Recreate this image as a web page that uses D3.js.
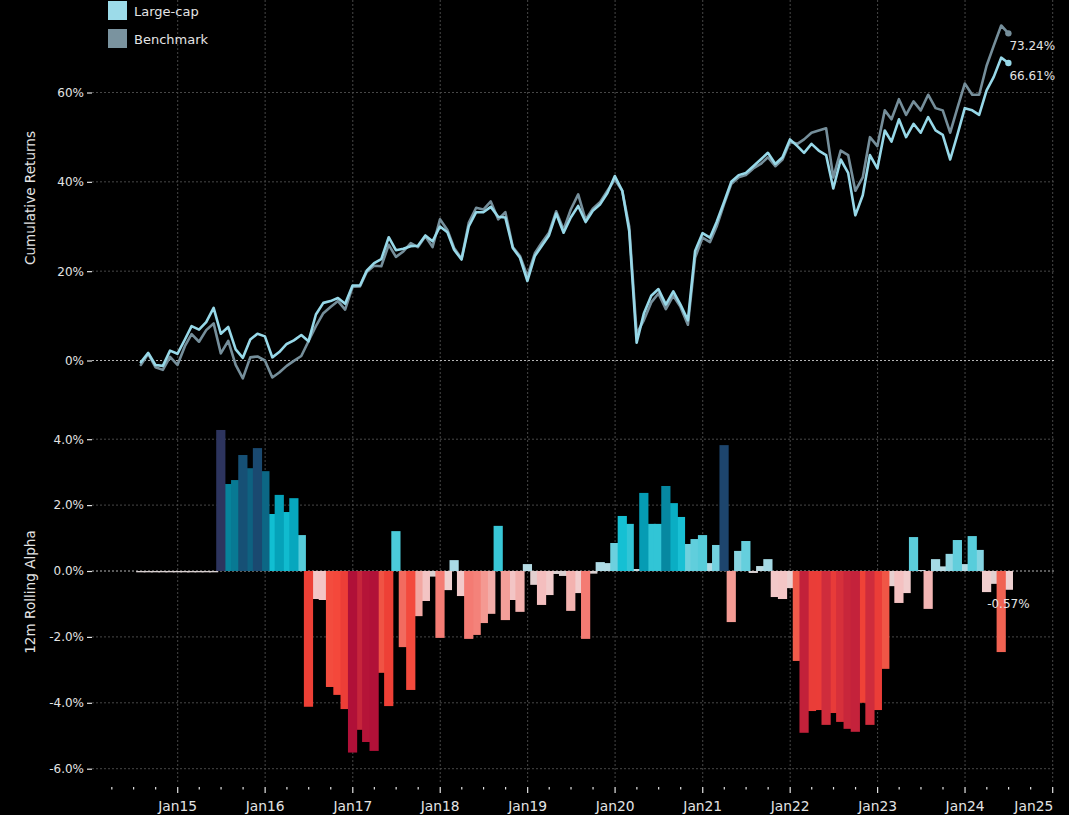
<!DOCTYPE html>
<html>
<head>
<meta charset="utf-8">
<script src="https://cdn.jsdelivr.net/npm/d3@7"></script>
<style>
  html, body { margin: 0; background: #000; }
  svg { display: block; }
  text { font-family: "DejaVu Sans", sans-serif; }
</style>
</head>
<body>
<svg id="chart" width="1069" height="815"></svg>
<script>
// Monthly series, month-end from Jul 2014 to Jun 2024
const seriesNames = ["Large-cap", "Benchmark"];

// cumulative returns, %
const largeCap = [
  -0.4, 1.7, -1.0, -1.2, 2.2, 1.5, 4.7, 7.7, 6.9, 8.6, 11.8, 6.0,
  7.5, 2.5, 0.6, 4.7, 6.0, 5.4, 0.7, 1.9, 3.7, 4.5, 5.7, 4.3,
  10.3, 12.9, 13.3, 14.0, 12.7, 16.8, 16.8, 20.1, 21.8, 22.7, 27.6, 24.7,
  25.0, 25.6, 25.7, 28.0, 26.7, 30.0, 28.7, 24.8, 22.6, 30.0, 33.2, 33.2,
  34.4, 32.2, 32.0, 25.2, 23.0, 17.8, 23.4, 25.6, 28.0, 32.9, 28.6, 32.0,
  34.6, 31.0, 33.5, 35.0, 37.5, 41.3, 38.0, 29.0, 4.0, 10.5, 14.5, 16.0,
  12.5, 15.5, 12.5, 9.0, 24.5, 28.5, 27.5, 31.0, 35.5, 40.0, 41.5, 42.0,
  43.5, 45.0, 46.5, 44.0, 45.5, 49.5, 48.0, 46.5, 48.5, 47.0, 46.0, 38.5,
  45.0, 42.0, 32.5, 37.0, 46.0, 43.0, 51.5, 49.0, 54.0, 50.0, 53.0, 51.0,
  54.5, 51.5, 50.5, 45.0, 50.5, 56.5, 56.0, 55.0, 60.5, 63.5, 67.8, 66.61
];
const benchmark = [
  -1.0, 1.5, -1.5, -2.1, 0.8, -1.0, 3.2, 5.9, 4.2, 6.8, 8.3, 1.6,
  4.4, -1.0, -4.0, 0.7, 0.9, 0.0, -3.8, -2.7, -1.2, -0.1, 1.0, 4.3,
  7.7, 10.6, 12.0, 13.3, 11.4, 16.5, 16.6, 19.8, 21.2, 21.1, 25.9, 23.2,
  24.4, 26.3, 25.4, 27.8, 25.4, 31.6, 29.2, 25.2, 22.8, 30.8, 34.2, 33.8,
  35.6, 31.6, 33.2, 25.4, 23.4, 18.9, 24.0, 26.3, 28.6, 33.4, 29.3, 33.8,
  37.2, 31.5, 34.0, 35.5, 38.0, 40.5, 38.0, 30.0, 6.0, 9.0, 13.0, 15.0,
  11.5, 14.5, 12.0, 8.0, 23.0, 27.5, 26.5, 30.0, 35.0, 39.5, 41.0, 41.5,
  43.0, 44.0, 45.5, 43.5, 45.0, 49.0, 48.5, 49.5, 51.0, 51.5, 52.0, 41.0,
  47.0, 46.0, 38.0, 41.0, 50.0, 48.0, 56.0, 54.0, 58.5, 55.0, 58.0, 56.0,
  59.5, 56.5, 56.0, 51.0, 56.5, 62.0, 59.5, 59.5, 66.0, 70.5, 75.0, 73.24
];

// 12-month rolling alpha, %
const rollingAlpha = [
  -0.04, -0.04, -0.04, -0.04, -0.04, -0.04, -0.04, -0.04, -0.04, -0.04, -0.04, 4.28,
  2.64, 2.76, 3.52, 3.12, 3.73, 3.03, 1.73, 2.31, 1.79, 2.21, 1.09, -4.12,
  -0.85, -0.88, -3.52, -3.76, -4.19, -5.51, -4.82, -5.19, -5.46, -3.09, -4.10, 1.21,
  -2.31, -3.61, -1.37, -0.91, -0.17, -2.03, -0.58, 0.33, -0.76, -2.06, -1.94, -1.58,
  -1.30, 1.37, -1.49, -0.88, -1.24, 0.21, -0.42, -1.03, -0.73, -0.09, -0.15, -1.21,
  -0.67, -2.06, -0.08, 0.27, 0.24, 0.85, 1.67, 1.43, 0.06, 2.37, 1.43, 1.43,
  2.58, 2.06, 1.64, 0.82, 0.97, 1.09, 0.24, 0.79, 3.82, -1.55, 0.61, 0.91,
  -0.06, 0.15, 0.36, -0.79, -0.85, -0.52, -2.73, -4.91, -4.25, -4.22, -4.67, -4.31,
  -4.58, -4.79, -4.88, -4.00, -4.67, -4.22, -2.97, -0.46, -0.97, -0.67, 1.03, 0.03,
  -1.15, 0.36, 0.14, 0.52, 0.94, 0.21, 1.06, 0.64, -0.64, -0.39, -2.46, -0.57
];

const returnTicks = [0, 20, 40, 60];
const alphaTicks = [4, 2, 0, -2, -4, -6];
const yearTicks = d3.range(2015, 2026);

// month-end dates for the series
const months = d3.utcMonth
  .range(new Date(Date.UTC(2014, 7, 1)), new Date(Date.UTC(2024, 7, 1)))
  .map(d => d3.utcDay.offset(d, -1));

const colors = { large: "#97d8e8", bench: "#758e9a", text: "#e4e4e4", grid: "#474747", zero: "#b5b5b5" };

const loc = d3.formatLocale({ decimal: ".", thousands: ",", grouping: [3], currency: ["$", ""], minus: "-" });
const fmtRet = d => loc.format(".0f")(d) + "%";
const fmtAlpha = d => loc.format(".1f")(d) + "%";
const fmtEnd = d => loc.format(".2f")(d) + "%";

const svg = d3.select("#chart");
const W = 1069, H = 815;
const left = 92, right = 1056;

svg.append("rect").attr("width", W).attr("height", H).attr("fill", "#000");

const x = d3.scaleUtc()
  .domain([new Date(Date.UTC(2015, 0, 1)), new Date(Date.UTC(2025, 0, 1))])
  .range([177.7, 1052.7]);

const yRet = d3.scaleLinear().domain([0, 60]).range([360.5, 92.5]);
const yAlpha = d3.scaleLinear().domain([0, 4]).range([571, 439.2]);

// vertical yearly grid through both panels
svg.append("g").selectAll("line").data(yearTicks).join("line")
  .attr("x1", d => x(new Date(Date.UTC(d, 0, 1))))
  .attr("x2", d => x(new Date(Date.UTC(d, 0, 1))))
  .attr("y1", 0).attr("y2", 784)
  .attr("stroke", colors.grid).attr("stroke-width", 1).attr("stroke-dasharray", "2,2");

// horizontal grids
function hGrid(scale, ticks) {
  svg.append("g").selectAll("line").data(ticks.filter(t => t !== 0)).join("line")
    .attr("x1", left).attr("x2", right)
    .attr("y1", d => scale(d)).attr("y2", d => scale(d))
    .attr("stroke", colors.grid).attr("stroke-width", 1).attr("stroke-dasharray", "2,2");
}
hGrid(yRet, returnTicks);
hGrid(yAlpha, alphaTicks);

// y axes (ticks + labels, no domain line)
function yAxis(scale, ticks, fmt) {
  const g = svg.append("g").attr("transform", `translate(${left},0)`)
    .call(d3.axisLeft(scale).tickValues(ticks).tickFormat(fmt).tickSize(5).tickPadding(3));
  g.select(".domain").remove();
  g.selectAll(".tick line").attr("stroke", colors.text).attr("stroke-width", 1.2);
  g.selectAll(".tick text").attr("fill", colors.text).style("font-size", "12px").style("font-family", "DejaVu Sans");
}
yAxis(yRet, returnTicks, fmtRet);
yAxis(yAlpha, alphaTicks, fmtAlpha);

// x axis: yearly labels, quarterly minor ticks
const xMajor = yearTicks.map(y => new Date(Date.UTC(y, 0, 1)));
const xMinor = d3.utcMonth.every(3).range(new Date(Date.UTC(2014, 3, 1)), new Date(Date.UTC(2025, 0, 2)))
  .filter(d => d.getUTCMonth() !== 0);
const gx = svg.append("g").attr("transform", "translate(0,787)");
gx.selectAll("line.minor").data(xMinor).join("line").attr("class", "minor")
  .attr("x1", d => x(d)).attr("x2", d => x(d)).attr("y1", 0).attr("y2", 2.5)
  .attr("stroke", colors.text).attr("stroke-width", 1.2);
gx.selectAll("line.major").data(xMajor).join("line").attr("class", "major")
  .attr("x1", d => x(d)).attr("x2", d => x(d)).attr("y1", 0).attr("y2", 6)
  .attr("stroke", colors.text).attr("stroke-width", 1.2);
// the last label is kept inside the frame by aligning its end to the tick
gx.selectAll("text").data(xMajor).join("text")
  .attr("x", (d, i) => i === xMajor.length - 1 ? x(d) + 0.5 : x(d)).attr("y", 23.5)
  .attr("text-anchor", (d, i) => i === xMajor.length - 1 ? "end" : "middle")
  .attr("fill", colors.text).style("font-size", "13.8px")
  .text(d => d3.utcFormat("%b%y")(d));

// zero lines
[yRet(0), yAlpha(0)].forEach(yy => {
  svg.append("line").attr("x1", left).attr("x2", right).attr("y1", yy).attr("y2", yy)
    .attr("stroke", colors.zero).attr("stroke-width", 1).attr("stroke-dasharray", "2,2");
});

// rolling alpha bars, coloured by value
const posColor = d3.scaleLinear()
  .domain([0, 0.3, 0.9, 1.2, 1.7, 2.3, 2.7, 3.2, 3.8, 4.3])
  .range(["#c9dade", "#acdbe6", "#66cfdd", "#4ccbd9", "#12bfd3", "#05a3ba", "#077d96", "#0f5c7c", "#1c466e", "#2e335d"])
  .clamp(true);
const negColor = d3.scaleLinear()
  .domain([0, -0.3, -0.6, -1.0, -1.3, -1.6, -2.1, -2.5, -3.0, -3.8, -4.1, -4.4, -4.7, -5.2, -5.5])
  .range(["#d8d0d0", "#dcd0d0", "#f0d0d0", "#f4c0c0", "#f2aca8", "#f49890", "#f47870", "#f0604f", "#f05545", "#f4473a", "#ee4036", "#e6393a", "#cc2a3c", "#b51438", "#b01038"])
  .clamp(true);
const barColor = v => v >= 0 ? posColor(v) : negColor(v);

const bars = months.map((d, i) => ({ date: d, v: rollingAlpha[i] }));
const barW = (x(months[1]) - x(months[0])) * 1.24;
svg.append("g").selectAll("rect")
  .data(bars.slice().sort((a, b) => Math.abs(a.v) - Math.abs(b.v)))
  .join("rect")
  .attr("x", d => x(d.date) - barW / 2)
  .attr("width", barW)
  .attr("y", d => Math.min(yAlpha(d.v), yAlpha(0)))
  .attr("height", d => Math.abs(yAlpha(d.v) - yAlpha(0)))
  .attr("fill", d => barColor(d.v));

// last alpha label
const lastBar = bars[bars.length - 1];
svg.append("text")
  .attr("x", x(lastBar.date)).attr("y", yAlpha(lastBar.v) + 18)
  .attr("text-anchor", "middle").attr("fill", colors.text).style("font-size", "12px")
  .text(fmtEnd(lastBar.v));

// cumulative return lines
const line = d3.line().x(d => x(d.date)).y(d => yRet(d.v));
const benchData = months.map((d, i) => ({ date: d, v: benchmark[i] }));
const largeData = months.map((d, i) => ({ date: d, v: largeCap[i] }));
[[benchData, colors.bench], [largeData, colors.large]].forEach(([data, c]) => {
  svg.append("path").datum(data).attr("d", line)
    .attr("fill", "none").attr("stroke", c).attr("stroke-width", 2.6)
    .attr("stroke-linejoin", "round").attr("stroke-linecap", "round");
  const last = data[data.length - 1];
  svg.append("circle").attr("cx", x(last.date)).attr("cy", yRet(last.v)).attr("r", 3.2).attr("fill", c);
  svg.append("text")
    .attr("x", x(last.date) + 1).attr("y", yRet(last.v) + 17)
    .attr("fill", colors.text).style("font-size", "12px")
    .text(fmtEnd(last.v));
});

// axis titles
svg.append("text").attr("transform", "translate(35,198) rotate(-90)")
  .attr("text-anchor", "middle").attr("fill", colors.text).style("font-size", "13.6px")
  .text("Cumulative Returns");
svg.append("text").attr("transform", "translate(35,592) rotate(-90)")
  .attr("text-anchor", "middle").attr("fill", colors.text).style("font-size", "13.6px")
  .text("12m Rolling Alpha");

// legend
const legend = svg.append("g");
[colors.large, colors.bench].forEach((c, i) => {
  legend.append("rect").attr("x", 108).attr("y", 1 + i * 28).attr("width", 19).attr("height", 19).attr("fill", i === 0 ? "#9cdbe9" : "#7a939f");
  legend.append("text").attr("x", 134).attr("y", 16 + i * 28).attr("fill", colors.text)
    .style("font-size", "13px").text(seriesNames[i]);
});
</script>
</body>
</html>
